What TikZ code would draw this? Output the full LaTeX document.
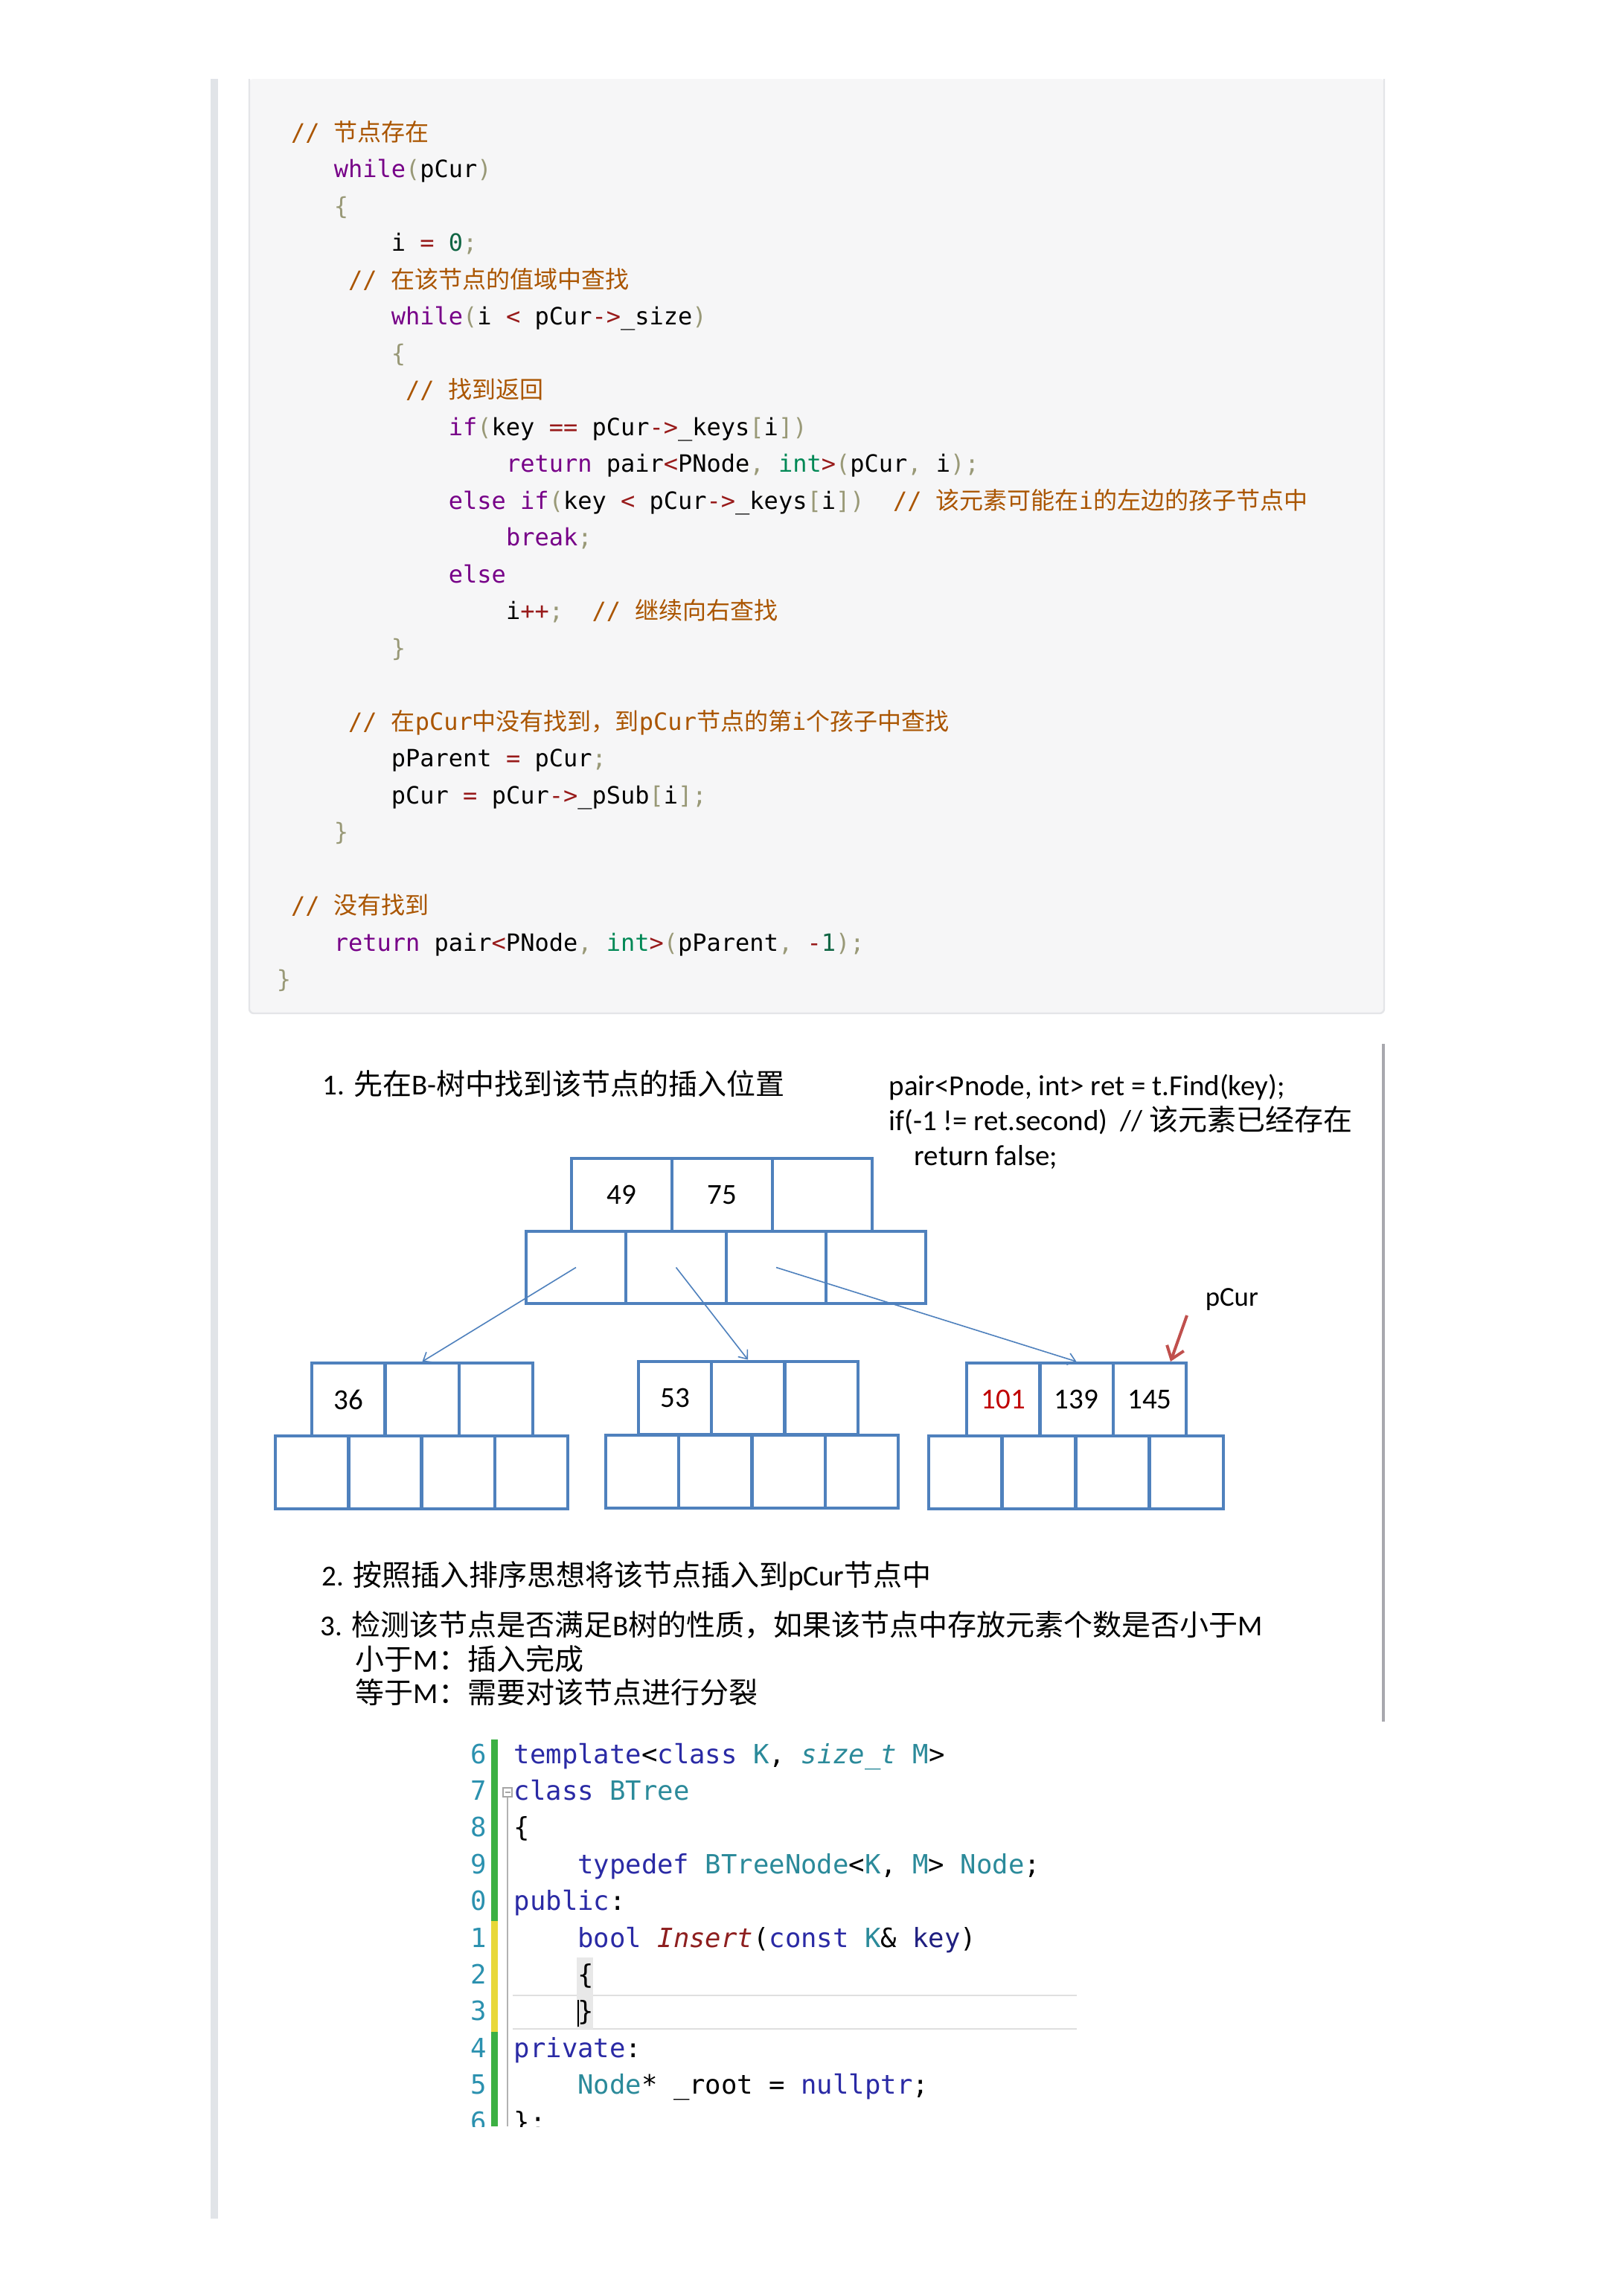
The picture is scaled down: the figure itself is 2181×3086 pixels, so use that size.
\documentclass[tikz,border=0pt]{standalone}
\usepackage{fontspec}
\setmainfont{Carlito}
\newfontfamily\cjkf{Noto Sans CJK SC}
\newfontfamily\monof{DejaVu Sans Mono}
\usetikzlibrary{arrows.meta}
\definecolor{cmkw}{HTML}{770088}
\definecolor{cmcm}{HTML}{AA5500}
\definecolor{cmnum}{HTML}{116644}
\definecolor{cmty}{HTML}{008855}
\definecolor{cmop}{HTML}{981A1A}
\definecolor{cmpu}{HTML}{999977}
\definecolor{codebg}{HTML}{F6F6F7}
\definecolor{codebd}{HTML}{E4E5E8}
\definecolor{barc}{HTML}{E1E4E8}
\definecolor{treeblue}{HTML}{4F81BD}
\definecolor{arrred}{HTML}{C0504D}
\definecolor{keyred}{HTML}{C00000}
\definecolor{vlinec}{HTML}{A8A8AE}
\definecolor{vkwc}{HTML}{2A2AA5}
\definecolor{vtyc}{HTML}{2B8A9A}
\definecolor{vfnc}{HTML}{8E1F1F}
\definecolor{vkeyc}{HTML}{1F1F80}
\definecolor{vlnc}{HTML}{2B91AF}
\definecolor{vgreen}{HTML}{3CB043}
\definecolor{vyellow}{HTML}{E8D83A}
\newcommand\ckw[1]{\textcolor{cmkw}{#1}}
\newcommand\ccm[1]{\textcolor{cmcm}{#1}}
\newcommand\cnum[1]{\textcolor{cmnum}{#1}}
\newcommand\cty[1]{\textcolor{cmty}{#1}}
\newcommand\cop[1]{\textcolor{cmop}{#1}}
\newcommand\cpu[1]{\textcolor{cmpu}{#1}}
\newcommand\vkw[1]{\textcolor{vkwc}{#1}}
\newcommand\vty[1]{\textcolor{vtyc}{#1}}
\begin{document}
\begin{tikzpicture}[x=0.25pt,y=-0.25pt,
  codeline/.style={anchor=base west, inner sep=0pt, font=\fontsize{8pt}{9.6pt}\selectfont\monof},
  vsline/.style={anchor=base west, inner sep=0pt, font=\fontsize{8.9pt}{10.5pt}\selectfont\monof},
  vsnum/.style={anchor=base east, inner sep=0pt, text=vlnc, font=\fontsize{8.9pt}{10.5pt}\selectfont\monof},
  txt/.style={anchor=base west, inner sep=0pt, font=\fontsize{9.75pt}{11.7pt}\selectfont},
  rootcell/.style={draw=treeblue, line width=1pt, inner sep=0pt, minimum width=33.7pt, minimum height=24.4pt, font=\fontsize{9.75pt}{11pt}\selectfont},
  kidcell/.style={draw=treeblue, line width=1pt, inner sep=0pt, minimum width=24.6pt, minimum height=24.5pt, font=\fontsize{9.75pt}{11pt}\selectfont},
  thinarr/.style={draw=treeblue, line width=0.4pt, -{Straight Barb[length=2.5pt,width=4pt]}},
  redarr/.style={draw=arrred, line width=1pt, -{Straight Barb[length=4pt,width=6pt]}}
]
\path[use as bounding box, fill=white] (0,0) rectangle (2181,3086);
% left gray bar
\fill[barc] (283,106) rectangle (293,2982);
% code block
\fill[codebg, rounded corners=1.5pt] (335,106) rectangle (1860,1362);
\draw[codebd, line width=0.6pt, rounded corners=1.5pt] (335,106) -- (335,1362) -- (1860,1362) -- (1860,106);
% code lines
\node[codeline] (c0) at (390.3,189) {\ccm{// {\cjkf 节点存在}}};
\node[codeline] (c1) at (448,238.5) {\ckw{while}\cpu{(}pCur\cpu{)}};
\node[codeline] (c2) at (448,288) {\cpu{\{}};
\node[codeline] (c3) at (525.1,337.5) {i \cop{=} \cnum{0}\cpu{;}};
\node[codeline] (c4) at (467.3,387) {\ccm{// {\cjkf 在该节点的值域中查找}}};
\node[codeline] (c5) at (525.1,436.5) {\ckw{while}\cpu{(}i \cop{<} pCur\cop{->}\_size\cpu{)}};
\node[codeline] (c6) at (525.1,486) {\cpu{\{}};
\node[codeline] (c7) at (544.3,535.5) {\ccm{// {\cjkf 找到返回}}};
\node[codeline] (c8) at (602.1,585) {\ckw{if}\cpu{(}key \cop{==} pCur\cop{->}\_keys\cpu{[}i\cpu{]}\cpu{)}};
\node[codeline] (c9) at (679.2,634.5) {\ckw{return} pair\cop{<}PNode\cpu{,} \cty{int}\cop{>}\cpu{(}pCur\cpu{,} i\cpu{)}\cpu{;}};
\node[codeline] (c10) at (602.1,684) {\ckw{else} \ckw{if}\cpu{(}key \cop{<} pCur\cop{->}\_keys\cpu{[}i\cpu{]}\cpu{)}\ \ \ccm{// {\cjkf 该元素可能在}i{\cjkf 的左边的孩子节点中}}};
\node[codeline] (c11) at (679.2,733.5) {\ckw{break}\cpu{;}};
\node[codeline] (c12) at (602.1,783) {\ckw{else}};
\node[codeline] (c13) at (679.2,832.5) {i\cop{++}\cpu{;}\ \ \ccm{// {\cjkf 继续向右查找}}};
\node[codeline] (c14) at (525.1,882) {\cpu{\}}};
\node[codeline] (c16) at (467.3,981) {\ccm{// {\cjkf 在}pCur{\cjkf 中没有找到，到}pCur{\cjkf 节点的第}i{\cjkf 个孩子中查找}}};
\node[codeline] (c17) at (525.1,1030.5) {pParent \cop{=} pCur\cpu{;}};
\node[codeline] (c18) at (525.1,1080) {pCur \cop{=} pCur\cop{->}\_pSub\cpu{[}i\cpu{]}\cpu{;}};
\node[codeline] (c19) at (448,1129.5) {\cpu{\}}};
\node[codeline] (c21) at (390.3,1228.5) {\ccm{// {\cjkf 没有找到}}};
\node[codeline] (c22) at (448,1278) {\ckw{return} pair\cop{<}PNode\cpu{,} \cty{int}\cop{>}\cpu{(}pParent\cpu{,} \cop{-}\cnum{1}\cpu{)}\cpu{;}};
\node[codeline] (c23) at (371,1327.5) {\cpu{\}}};
% right vertical line
\fill[vlinec] (1857,1403) rectangle (1861,2314);
% titles
\node[txt] (t1) at (433,1471) {1. {\cjkf 先在}B-{\cjkf 树中找到该节点的插入位置}};
\node[txt] (r1) at (1194,1472) {pair<Pnode, int> ret = t.Find(key);};
\node[txt] (r2) at (1194,1519) {if(-1 != ret.second)\ \ // {\cjkf 该元素已经存在}};
\node[txt] (r3) at (1228,1566) {return false;};
% tree root
\node[rootcell] (rt1) at (835.5,1606) {49};
\node[rootcell] (rt2) at (970.5,1606) {75};
\node[rootcell] (rt3) at (1105,1606) {};
\node[rootcell] (rb1) at (774,1703.5) {};
\node[rootcell] (rb2) at (908.5,1703.5) {};
\node[rootcell] (rb3) at (1043,1703.5) {};
\node[rootcell] (rb4) at (1177,1703.5) {};
% left child
\node[kidcell] (lt1) at (468,1881) {36};
\node[kidcell] (lt2) at (567.5,1881) {};
\node[kidcell] (lt3) at (666.5,1881) {};
\node[kidcell] (lb1) at (419.5,1978.5) {};
\node[kidcell] (lb2) at (517.5,1978.5) {};
\node[kidcell] (lb3) at (615.5,1978.5) {};
\node[kidcell] (lb4) at (714,1978.5) {};
% middle child
\node[kidcell] (mt1) at (907,1878.5) {53};
\node[kidcell] (mt2) at (1005,1878.5) {};
\node[kidcell] (mt3) at (1104,1878.5) {};
\node[kidcell] (mb1) at (863,1977.5) {};
\node[kidcell] (mb2) at (961.5,1977.5) {};
\node[kidcell] (mb3) at (1059.5,1977.5) {};
\node[kidcell] (mb4) at (1158,1977.5) {};
% right child
\node[kidcell, text=keyred] (qt1) at (1348.5,1881) {101};
\node[kidcell] (qt2) at (1446.5,1881) {139};
\node[kidcell] (qt3) at (1545,1881) {145};
\node[kidcell] (qb1) at (1297,1978.5) {};
\node[kidcell] (qb2) at (1396,1978.5) {};
\node[kidcell] (qb3) at (1495,1978.5) {};
\node[kidcell] (qb4) at (1594.5,1978.5) {};
% arrows
\draw[thinarr] (rb1.center) -- (lt2.north);
\draw[thinarr] (rb2.center) -- (mt2.north);
\draw[thinarr] (rb3.center) -- (qt2.north);
\node[txt, font=\fontsize{9.2pt}{11pt}\selectfont] (pcurlbl) at (1619,1755) {pCur};
\coordinate (pcstart) at (1595,1768);
\coordinate (pctip) at (1573,1830);
\draw[redarr] (pcstart) -- (pctip);
% steps 2 and 3
\node[txt] (t2) at (432,2131) {2. {\cjkf 按照插入排序思想将该节点插入到}pCur{\cjkf 节点中}};
\node[txt] (t3) at (430,2198) {3. {\cjkf 检测该节点是否满足}B{\cjkf 树的性质，如果该节点中存放元素个数是否小于}M};
\node[txt] (t4) at (477,2244) {{\cjkf 小于}M{\cjkf ：插入完成}};
\node[txt] (t5) at (477,2289) {{\cjkf 等于}M{\cjkf ：需要对该节点进行分裂}};
% screenshot
\begin{scope}
\clip (620,2336) rectangle (1447,2858);
\fill[green!0!white] (634,2338) rectangle (1447,2858);
\fill[vgreen] (660,2338) rectangle (669,2858);
\fill[vyellow] (660,2582) rectangle (669,2731);
\draw[gray!60, line width=0.3pt] (682,2415) -- (682,2858);
\draw[gray!70, line width=0.3pt, fill=white] (676,2403) rectangle (688,2415);
\draw[gray!70, line width=0.3pt] (678.5,2409) -- (685.5,2409);
\draw[gray!25, line width=0.5pt] (689,2682) -- (1447,2682) (689,2727) -- (1447,2727);
\fill[gray!18] (775,2631) rectangle (797,2727);
\draw[black, line width=0.4pt] (777,2688) -- (777,2724);
\node[vsnum] (n0) at (655,2370) {6};
\node[vsnum] (n1) at (655,2419.4) {7};
\node[vsnum] (n2) at (655,2468.8) {8};
\node[vsnum] (n3) at (655,2518.2) {9};
\node[vsnum] (n4) at (655,2567.6) {0};
\node[vsnum] (n5) at (655,2617) {1};
\node[vsnum] (n6) at (655,2666.4) {2};
\node[vsnum] (n7) at (655,2715.8) {3};
\node[vsnum] (n8) at (655,2765.2) {4};
\node[vsnum] (n9) at (655,2814.6) {5};
\node[vsnum] (n10) at (655,2864) {6};
\node[vsline] (s0) at (690,2370) {\vkw{template}<\vkw{class} \vty{K}, \vty{\itshape size\_t} \vty{M}>};
\node[vsline] (s1) at (690,2419.4) {\vkw{class} \vty{BTree}};
\node[vsline] (s2) at (690,2468.8) {\{};
\node[vsline] (s3) at (775.6,2518.2) {\vkw{typedef} \vty{BTreeNode}<\vty{K}, \vty{M}> \vty{Node};};
\node[vsline] (s4) at (690,2567.6) {\vkw{public}:};
\node[vsline] (s5) at (775.6,2617) {\vkw{bool} \textcolor{vfnc}{\itshape Insert}(\vkw{const} \vty{K}\& \textcolor{vkeyc}{key})};
\node[vsline] (s6) at (775.6,2666.4) {\{};
\node[vsline] (s7) at (775.6,2715.8) {\}};
\node[vsline] (s8) at (690,2765.2) {\vkw{private}:};
\node[vsline] (s9) at (775.6,2814.6) {\vty{Node}* \_root = \vkw{nullptr};};
\node[vsline] (s10) at (690,2864) {\};};
\end{scope}
\end{tikzpicture}
\end{document}
